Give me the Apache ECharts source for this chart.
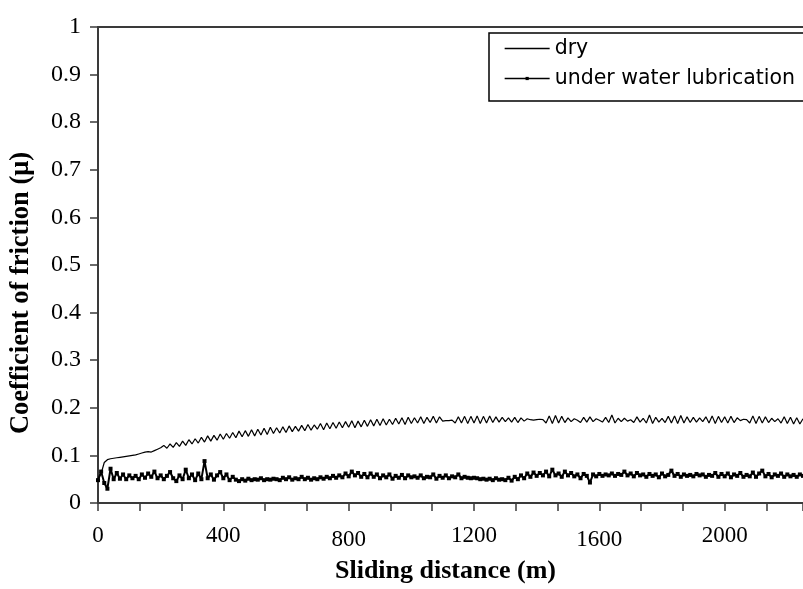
<!DOCTYPE html>
<html>
<head>
<meta charset="utf-8">
<script src="https://cdn.jsdelivr.net/npm/echarts@6/dist/echarts.min.js"></script>
<style>
html,body{margin:0;padding:0;background:#fff;overflow:hidden;width:803px;height:589px;}
#chart{width:840px;height:589px;}
</style>
</head>
<body>
<div id="chart"></div>
<script>
// Sliding distance (m), one reading every 10 m
var distance = [0,10,20,30,40,50,60,70,80,90,100,110,120,130,140,150,160,170,180,190,200,210,220,230,240,250,260,270,280,290,300,310,320,330,340,350,360,370,380,390,400,410,420,430,440,450,460,470,480,490,500,510,520,530,540,550,560,570,580,590,600,610,620,630,640,650,660,670,680,690,700,710,720,730,740,750,760,770,780,790,800,810,820,830,840,850,860,870,880,890,900,910,920,930,940,950,960,970,980,990,1000,1010,1020,1030,1040,1050,1060,1070,1080,1090,1100,1110,1120,1130,1140,1150,1160,1170,1180,1190,1200,1210,1220,1230,1240,1250,1260,1270,1280,1290,1300,1310,1320,1330,1340,1350,1360,1370,1380,1390,1400,1410,1420,1430,1440,1450,1460,1470,1480,1490,1500,1510,1520,1530,1540,1550,1560,1570,1580,1590,1600,1610,1620,1630,1640,1650,1660,1670,1680,1690,1700,1710,1720,1730,1740,1750,1760,1770,1780,1790,1800,1810,1820,1830,1840,1850,1860,1870,1880,1890,1900,1910,1920,1930,1940,1950,1960,1970,1980,1990,2000,2010,2020,2030,2040,2050,2060,2070,2080,2090,2100,2110,2120,2130,2140,2150,2160,2170,2180,2190,2200,2210,2220,2230,2240,2250];

var dry = [
0.050,0.062,0.085,0.091,0.093,0.094,0.095,0.096,0.097,0.098,
0.099,0.100,0.101,0.103,0.105,0.107,0.108,0.107,0.110,0.113,
0.116,0.121,0.115,0.124,0.117,0.127,0.119,0.130,0.121,0.133,
0.124,0.135,0.126,0.138,0.128,0.141,0.130,0.142,0.132,0.145,
0.134,0.146,0.136,0.148,0.137,0.151,0.139,0.152,0.140,0.154,
0.141,0.155,0.143,0.157,0.144,0.159,0.146,0.158,0.147,0.160,
0.148,0.162,0.150,0.161,0.151,0.163,0.152,0.165,0.153,0.164,
0.155,0.167,0.154,0.168,0.156,0.169,0.157,0.170,0.158,0.171,
0.159,0.173,0.158,0.172,0.160,0.174,0.161,0.175,0.162,0.176,
0.163,0.177,0.164,0.176,0.165,0.178,0.166,0.179,0.165,0.180,
0.167,0.179,0.168,0.181,0.167,0.180,0.169,0.182,0.168,0.181,
0.172,0.173,0.173,0.174,0.168,0.181,0.168,0.182,0.167,0.182,
0.168,0.183,0.167,0.182,0.168,0.183,0.169,0.181,0.170,0.180,
0.171,0.179,0.170,0.180,0.169,0.179,0.172,0.177,0.175,0.174,
0.175,0.176,0.175,0.168,0.183,0.167,0.184,0.168,0.182,0.169,
0.179,0.171,0.177,0.174,0.169,0.180,0.170,0.181,0.171,0.177,
0.174,0.170,0.180,0.169,0.185,0.168,0.178,0.171,0.178,0.172,
0.175,0.169,0.181,0.170,0.178,0.168,0.185,0.167,0.180,0.170,
0.178,0.169,0.182,0.168,0.183,0.167,0.184,0.168,0.181,0.169,
0.180,0.170,0.179,0.171,0.181,0.168,0.183,0.167,0.182,0.169,
0.181,0.168,0.182,0.169,0.179,0.173,0.176,0.175,0.168,0.183,
0.167,0.182,0.168,0.181,0.169,0.178,0.171,0.177,0.168,0.181,
0.167,0.180,0.166,0.179,0.166,0.177];

var water = [
0.048,0.066,0.042,0.030,0.072,0.050,0.063,0.051,0.060,0.050,
0.058,0.052,0.057,0.050,0.060,0.053,0.062,0.055,0.066,0.052,
0.058,0.050,0.057,0.065,0.052,0.046,0.058,0.050,0.070,0.052,
0.060,0.048,0.062,0.050,0.088,0.052,0.060,0.049,0.058,0.065,
0.052,0.060,0.048,0.055,0.049,0.046,0.050,0.047,0.051,0.048,
0.050,0.049,0.052,0.048,0.050,0.049,0.051,0.050,0.048,0.053,
0.050,0.054,0.049,0.052,0.050,0.055,0.050,0.053,0.049,0.052,
0.050,0.054,0.051,0.055,0.052,0.057,0.053,0.058,0.054,0.062,
0.056,0.066,0.058,0.063,0.055,0.061,0.054,0.062,0.055,0.060,
0.052,0.058,0.054,0.060,0.051,0.057,0.053,0.059,0.052,0.058,
0.054,0.056,0.053,0.058,0.052,0.055,0.054,0.060,0.051,0.057,
0.053,0.058,0.052,0.056,0.054,0.060,0.052,0.055,0.053,0.052,
0.053,0.052,0.050,0.051,0.049,0.051,0.048,0.052,0.049,0.050,
0.048,0.053,0.047,0.055,0.050,0.058,0.052,0.062,0.055,0.064,
0.057,0.063,0.058,0.066,0.056,0.070,0.058,0.062,0.055,0.066,
0.058,0.063,0.056,0.060,0.052,0.061,0.057,0.043,0.060,0.056,
0.061,0.057,0.060,0.058,0.062,0.057,0.061,0.059,0.066,0.058,
0.062,0.056,0.063,0.058,0.060,0.055,0.061,0.057,0.060,0.054,
0.062,0.056,0.059,0.068,0.057,0.061,0.055,0.060,0.057,0.059,
0.056,0.061,0.058,0.060,0.055,0.059,0.057,0.063,0.055,0.061,
0.056,0.062,0.054,0.060,0.057,0.063,0.055,0.059,0.056,0.064,
0.055,0.062,0.068,0.056,0.061,0.054,0.060,0.057,0.062,0.055,
0.060,0.056,0.059,0.055,0.060,0.057];

var xTickLabels = [0, 400, 800, 1200, 1600, 2000];
var seriesNames = ['dry', 'under water lubrication'];

function pairs(xs, ys) {
  var out = [];
  for (var i = 0; i < ys.length; i++) out.push([xs[i], ys[i]]);
  return out;
}

var serif = '"Liberation Serif", "Times New Roman", serif';
var axisColor = '#3a3a3a';

var chart = echarts.init(document.getElementById('chart'), null, {renderer: 'canvas'});
chart.setOption({
  animation: false,
  backgroundColor: '#ffffff',
  grid: {left: 97, right: 37, top: 27, bottom: 81, containLabel: false},
  legend: {
    orient: 'vertical',
    left: 489,
    top: 33,
    padding: [5, 20, 12, 15],
    itemGap: 9,
    itemWidth: 45,
    itemHeight: 4,
    borderColor: '#000',
    borderWidth: 1.5,
    borderRadius: 0,
    backgroundColor: '#fff',
    textStyle: {fontFamily: '"DejaVu Sans", sans-serif', fontSize: 20.5, color: '#000'},
    lineStyle: {width: 1.3, color: '#000'},
    data: [
      {name: seriesNames[0], itemStyle: {opacity: 0}},
      {name: seriesNames[1]}
    ]
  },
  xAxis: [{
    type: 'value',
    min: 0,
    max: 2250,
    interval: 400,
    position: 'bottom',
    axisLine: {show: true, lineStyle: {color: axisColor, width: 2}},
    axisTick: {show: true, length: 8, inside: false, lineStyle: {color: axisColor, width: 1.5}},
    minorTick: {show: true, splitNumber: 3, length: 8, lineStyle: {color: axisColor, width: 1.5}},
    splitLine: {show: false},
    axisLabel: {
      margin: 21,
      fontFamily: serif,
      fontSize: 23,
      color: '#000',
      showMaxLabel: false,
      formatter: function (v) {
        if (xTickLabels.indexOf(v) < 0) return '';
        if (v === 800 || v === 1600) return '{d|' + v + '}';
        return '{n|' + v + '}';
      },
      rich: {
        n: {fontFamily: serif, fontSize: 23, color: '#000'},
        d: {fontFamily: serif, fontSize: 23, color: '#000', padding: [4, 0, 0, 0]}
      }
    },
    name: 'Sliding distance (m)',
    nameLocation: 'middle',
    nameGap: 55,
    nameTextStyle: {fontFamily: serif, fontSize: 26, fontWeight: 'bold', color: '#000', padding: [0, 10, 0, 0]}
  }, {
    type: 'value',
    min: 0,
    max: 2250,
    position: 'top',
    axisLine: {show: true, lineStyle: {color: axisColor, width: 2}},
    axisTick: {show: false},
    axisLabel: {show: false},
    splitLine: {show: false}
  }],
  yAxis: {
    type: 'value',
    min: 0,
    max: 1,
    interval: 0.1,
    axisLine: {show: true, lineStyle: {color: axisColor, width: 2}},
    axisTick: {show: true, length: 8, inside: false, lineStyle: {color: axisColor, width: 1.5}},
    splitLine: {show: false},
    axisLabel: {margin: 17, fontFamily: serif, fontSize: 24, color: '#000'},
    name: 'Coefficient of friction (μ)',
    nameLocation: 'middle',
    nameRotate: 90,
    nameGap: 63,
    nameTextStyle: {fontFamily: serif, fontSize: 26.5, fontWeight: 'bold', color: '#000', padding: [0, 56, 0, 0]}
  },
  series: [{
    name: seriesNames[0],
    type: 'line',
    xAxisIndex: 0,
    data: pairs(distance, dry),
    symbol: 'none',
    lineStyle: {color: '#000', width: 1.2},
    itemStyle: {color: '#000'},
    z: 3
  }, {
    name: seriesNames[1],
    type: 'line',
    xAxisIndex: 0,
    data: pairs(distance, water),
    symbol: 'rect',
    symbolSize: 4,
    showSymbol: true,
    showAllSymbol: true,
    lineStyle: {color: '#000', width: 2},
    itemStyle: {color: '#000'},
    z: 3
  }]
});
</script>
</body>
</html>
